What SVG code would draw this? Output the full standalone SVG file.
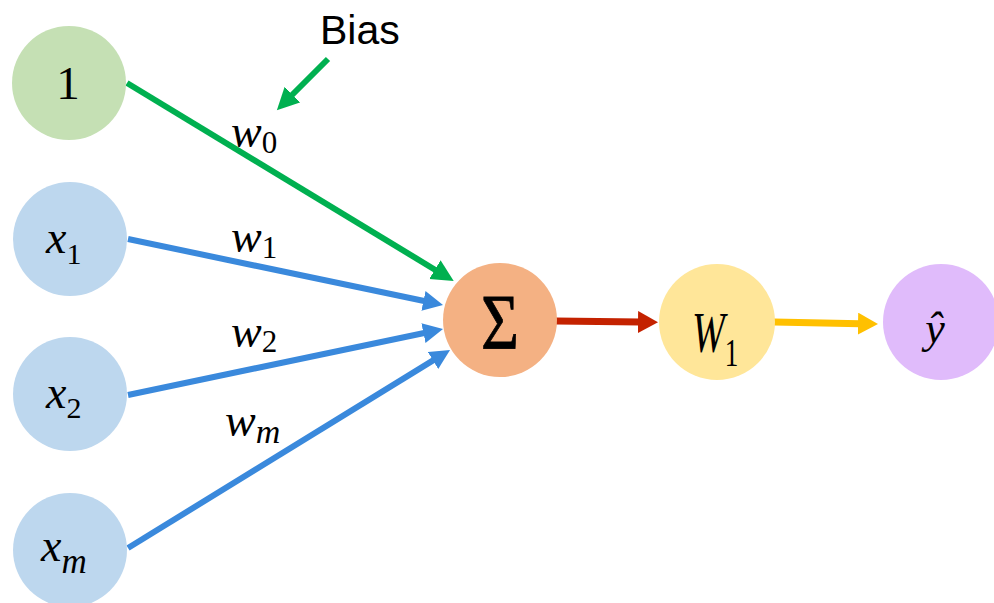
<svg xmlns="http://www.w3.org/2000/svg" width="994" height="603" viewBox="0 0 994 603">
<style>
.m{font-family:"Liberation Serif","DejaVu Serif",serif;font-style:italic;fill:#000}
.u{font-family:"Liberation Serif","DejaVu Serif",serif;fill:#000}
.sans{font-family:"Liberation Sans","DejaVu Sans",sans-serif;fill:#000}
.g{stroke:#00B050;stroke-width:6;fill:none}
.b{stroke:#3A89DC;stroke-width:6;fill:none}
.r{stroke:#C42200;stroke-width:7;fill:none}
.y{stroke:#FFC000;stroke-width:7;fill:none}
</style>
<defs>
<marker id="ag" markerUnits="userSpaceOnUse" markerWidth="24" markerHeight="24" refX="2" refY="11" orient="auto"><path d="M0,0 L22,11 L0,22 z" fill="#00B050"/></marker>
<marker id="ab" markerUnits="userSpaceOnUse" markerWidth="24" markerHeight="24" refX="2" refY="10" orient="auto"><path d="M0,0 L20,10 L0,20 z" fill="#3A89DC"/></marker>
<marker id="ar" markerUnits="userSpaceOnUse" markerWidth="24" markerHeight="24" refX="2" refY="11" orient="auto"><path d="M0,0 L20,11 L0,22 z" fill="#C42200"/></marker>
<marker id="ay" markerUnits="userSpaceOnUse" markerWidth="24" markerHeight="24" refX="2" refY="11" orient="auto"><path d="M0,0 L20,11 L0,22 z" fill="#FFC000"/></marker>
</defs>
<rect width="994" height="603" fill="#fff"/>
<g id="connectors">
<line class="g" x1="127" y1="83" x2="436.6" y2="270.7" marker-end="url(#ag)"/>
<line class="b" x1="128" y1="239" x2="425.4" y2="301.3" marker-end="url(#ab)"/>
<line class="b" x1="128" y1="395" x2="425.4" y2="332.7" marker-end="url(#ab)"/>
<line class="b" x1="128" y1="548" x2="434.7" y2="359.4" marker-end="url(#ab)"/>
<line class="r" x1="556" y1="321" x2="640" y2="322" marker-end="url(#ar)"/>
<line class="y" x1="774" y1="322" x2="860" y2="323.7" marker-end="url(#ay)"/>
<line class="g" x1="328" y1="59" x2="291" y2="96" marker-end="url(#ag)"/>
</g>
<g id="labels">
<text class="sans" x="320" y="44" font-size="41">Bias</text>
<text class="m" x="231" y="147" font-size="46">w<tspan font-style="normal" font-size="31" dy="6">0</tspan></text>
<text class="m" x="231" y="252" font-size="46">w<tspan font-style="normal" font-size="31" dy="6">1</tspan></text>
<text class="m" x="231" y="347" font-size="46">w<tspan font-style="normal" font-size="31" dy="5">2</tspan></text>
<text class="m" x="225" y="436" font-size="46">w<tspan font-size="34" dy="7">m</tspan></text>
</g>
<g id="node-bias">
<circle cx="69" cy="83" r="57" fill="#C5E0B4"/>
<text class="u" x="68" y="99" font-size="47" text-anchor="middle">1</text>
</g>
<g id="node-x1">
<circle cx="70" cy="239" r="57" fill="#BDD7EE"/>
<text class="m" x="46" y="253" font-size="46">x<tspan font-style="normal" font-size="30" dy="11">1</tspan></text>
</g>
<g id="node-x2">
<circle cx="70" cy="394" r="57" fill="#BDD7EE"/>
<text class="m" x="46" y="408" font-size="46">x<tspan font-style="normal" font-size="30" dy="10">2</tspan></text>
</g>
<g id="node-xm">
<circle cx="70" cy="550" r="57" fill="#BDD7EE"/>
<text class="m" x="41" y="561" font-size="46">x<tspan font-size="35" dy="12">m</tspan></text>
</g>
<g id="node-sum">
<circle cx="500" cy="320" r="57" fill="#F4B183"/>
<text class="u" x="481" y="348" font-size="78" textLength="38" lengthAdjust="spacingAndGlyphs" stroke="#000" stroke-width="0.8">Σ</text>
</g>
<g id="node-w1">
<circle cx="717" cy="322" r="58" fill="#FFE699"/>
<text class="m" transform="translate(692,352) scale(0.68,1)" font-size="58">W<tspan font-style="normal" font-size="40" dy="14">1</tspan></text>
</g>
<g id="node-yhat">
<circle cx="941" cy="322" r="58" fill="#E0BBFB"/>
<text class="m" x="935" y="343" font-size="44" text-anchor="middle">ŷ</text>
</g>
</svg>
